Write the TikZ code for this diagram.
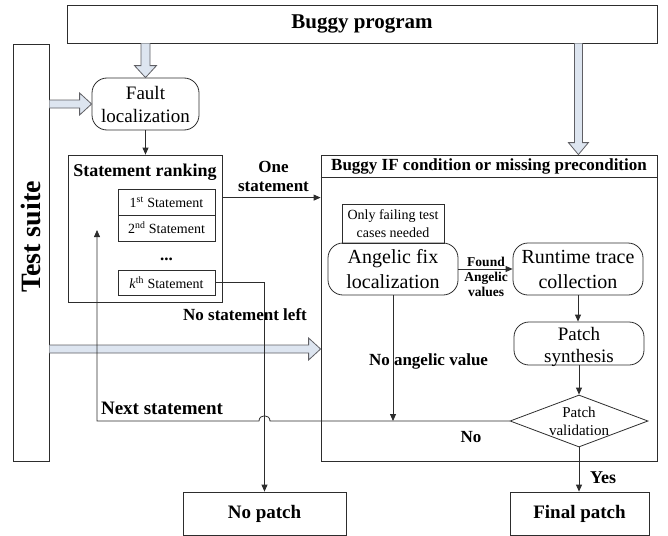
\documentclass[tikz,border=0pt]{standalone}
\usepackage{fontspec}
\setmainfont{Liberation Serif}
\usetikzlibrary{arrows.meta,calc,shapes.geometric}
\definecolor{lc}{RGB}{45,45,45}
\definecolor{hc}{RGB}{95,95,100}
\definecolor{hf}{RGB}{221,229,240}
\begin{document}
\begin{tikzpicture}[x=1pt,y=-1pt,
  box/.style={draw=lc, line width=0.8pt, inner sep=0pt, align=center, rectangle},
  rbox/.style={box, rounded corners=15pt},
  conn/.style={draw=lc, line width=0.8pt, -{Triangle[length=7pt,width=6pt]}},
  plain/.style={draw=lc, line width=0.8pt},
  hollow/.style={draw=hc, fill=hf, line width=0.8pt, line join=miter},
  lbl/.style={inner sep=0pt, align=center}]
\useasboundingbox (0,0) rectangle (668,535);

% boxes
\node[box, minimum width=590pt, minimum height=38pt, font=\bfseries\fontsize{21}{25}\selectfont] (buggy) at (362,24) {Buggy program};
\node[box, minimum width=36pt, minimum height=417pt] (test) at (31,252.5) {};
\node[lbl, rotate=90, font=\bfseries\fontsize{28}{32}\selectfont] (testl) at (31,237) {Test suite};
\node[rbox, minimum width=107pt, minimum height=52pt, font=\fontsize{19}{23}\selectfont] (fault) at (145.5,104) {Fault\\localization};

\node[box, minimum width=154pt, minimum height=147pt] (rank) at (145,228.5) {};
\node[lbl, font=\bfseries\fontsize{18}{22}\selectfont] (rankl) at (145,172) {Statement ranking};
\node[box, minimum width=97pt, minimum height=26pt, font=\fontsize{14}{17}\selectfont] (s1) at (166.5,202) {1\textsuperscript{st} Statement};
\node[box, minimum width=97pt, minimum height=26pt, font=\fontsize{14}{17}\selectfont] (s2) at (166.5,228) {2\textsuperscript{nd} Statement};
\node[lbl, anchor=base, font=\bfseries\fontsize{17}{20}\selectfont] (dots) at (166.5,260) {...};
\node[box, minimum width=97pt, minimum height=25pt, font=\fontsize{14}{17}\selectfont] (sk) at (166.5,282.5) {\textit{k}\textsuperscript{th} Statement};

\node[box, minimum width=336pt, minimum height=306pt] (big) at (489,308) {};
\draw[plain] ($(big.north west)+(0,23)$) -- ($(big.north east)+(0,23)$);
\node[lbl, font=\bfseries\fontsize{17}{20}\selectfont] (bigl) at (489,166.5) {Buggy IF condition or missing precondition};

\node[box, minimum width=102pt, minimum height=39pt, font=\fontsize{14}{18}\selectfont] (only) at (393,223.5) {Only failing test\\cases needed};
\node[rbox, minimum width=130pt, minimum height=52pt, font=\fontsize{20}{25}\selectfont] (ang) at (393,269) {Angelic fix\\localization};
\node[rbox, minimum width=130pt, minimum height=52pt, font=\fontsize{20}{25}\selectfont] (run) at (578,269) {Runtime trace\\collection};
\node[rbox, minimum width=130pt, minimum height=43pt] (syn) at (579,343.5) {};
\node[lbl, font=\fontsize{19}{22}\selectfont] (synl) at (579,347) {Patch\\synthesis};
\node[diamond, draw=lc, line width=0.8pt, minimum width=138pt, minimum height=52pt, inner sep=0pt] (val) at (579,421) {};
\node[lbl, font=\fontsize{15}{18}\selectfont] (vall) at (579,421) {Patch\\validation};

\node[box, minimum width=163pt, minimum height=43pt, font=\bfseries\fontsize{19}{23}\selectfont] (nop) at (264.5,513.5) {No patch};
\node[box, minimum width=139pt, minimum height=43pt, font=\bfseries\fontsize{19}{23}\selectfont] (fin) at (579.5,513.5) {Final patch};

% hollow arrows
\coordinate (h1a) at (fault.north |- buggy.south);
\coordinate (h1b) at (fault.north);
\draw[hollow] ($(h1a)+(-4.5,0)$) -- ($(h1b)+(-4.5,-12)$) -- ($(h1b)+(-11,-12)$) -- (h1b) -- ($(h1b)+(11,-12)$) -- ($(h1b)+(4.5,-12)$) -- ($(h1a)+(4.5,0)$);

\coordinate (h2b) at (fault.west);
\coordinate (h2a) at (test.east |- h2b);
\draw[hollow] ($(h2a)+(0,-4)$) -- ($(h2b)+(-12,-4)$) -- ($(h2b)+(-12,-11)$) -- (h2b) -- ($(h2b)+(-12,11)$) -- ($(h2b)+(-12,4)$) -- ($(h2a)+(0,4)$);

\coordinate (h3b) at ($(big.north east)+(-79,0)$);
\coordinate (h3a) at (h3b |- buggy.south);
\draw[hollow] ($(h3a)+(-4,0)$) -- ($(h3b)+(-4,-12)$) -- ($(h3b)+(-10,-12)$) -- (h3b) -- ($(h3b)+(10,-12)$) -- ($(h3b)+(4,-12)$) -- ($(h3a)+(4,0)$);

\coordinate (h4b) at ($(big.west)+(0,41)$);
\coordinate (h4a) at (test.east |- h4b);
\draw[hollow] ($(h4a)+(0,-4)$) -- ($(h4b)+(-12,-4)$) -- ($(h4b)+(-12,-11)$) -- (h4b) -- ($(h4b)+(-12,11)$) -- ($(h4b)+(-12,4)$) -- ($(h4a)+(0,4)$);

% connectors
\draw[conn] (fault.south) -- (fault.south |- rank.north);
\coordinate (os) at ($(rank.north east)+(0,43)$);
\draw[conn] (os) -- (os -| big.west);
\node[lbl, font=\bfseries\fontsize{17}{19}\selectfont] (onel) at (273.5,176) {One\\statement};

\draw[conn] (sk.east) -- (sk.east -| nop.north) -- (nop.north);
\node[lbl, font=\bfseries\fontsize{17}{20}\selectfont] (nsl) at (245,315) {No statement left};

\draw[conn] (ang.east) -- (run.west);
\node[lbl, font=\bfseries\fontsize{13.5}{15}\selectfont] (found) at (486,277) {Found\\Angelic\\values};

\draw[conn] (run.south) -- (run.south |- syn.north);
\draw[conn] (syn.south) -- (val.north);
\draw[conn] (val.south) -- (val.south |- fin.north);
\node[lbl, font=\bfseries\fontsize{18}{21}\selectfont] (yes) at (603,478) {Yes};

\draw[conn] (ang.south) -- (ang.south |- val.west);
\node[lbl, font=\bfseries\fontsize{17}{20}\selectfont] (nav) at (428.5,361) {No angelic value};

\coordinate (jr) at ($(nop.north |- val.west)+(5.5,0)$);
\coordinate (jl) at ($(nop.north |- val.west)+(-5.5,0)$);
\coordinate (nc) at (97,421);
\coordinate (nt) at (97,230);
\draw[conn] (val.west) -- (jr) .. controls +(0,-7) and +(0,-7) .. (jl) -- (nc) -- (nt);
\node[lbl, font=\bfseries\fontsize{19}{22}\selectfont] (nxt) at (162,408) {Next statement};
\node[lbl, font=\bfseries\fontsize{17}{20}\selectfont] (no) at (471,437) {No};
\end{tikzpicture}
\end{document}
